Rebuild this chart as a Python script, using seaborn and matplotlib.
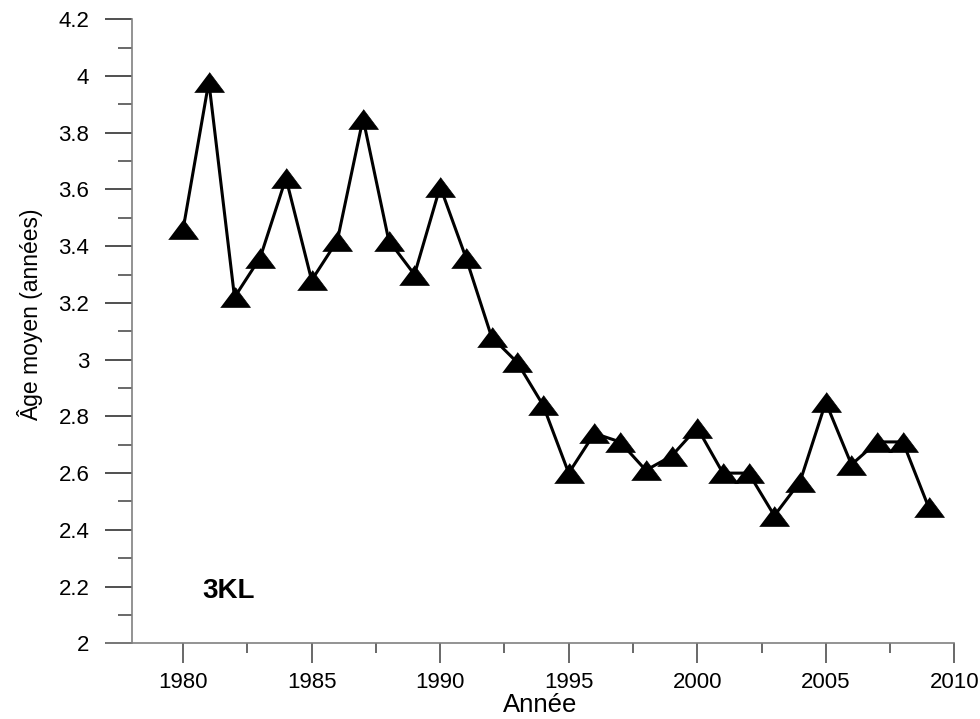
import matplotlib
matplotlib.use("Agg")
import matplotlib.pyplot as plt
import seaborn as sns
import pandas as pd
from matplotlib.ticker import MultipleLocator, FixedLocator

# Data
years = list(range(1980, 2010))
ages = [3.46, 3.98, 3.22, 3.36, 3.64, 3.28, 3.42, 3.85, 3.42, 3.30,
        3.61, 3.36, 3.08, 2.99, 2.84, 2.60, 2.74, 2.71, 2.61, 2.66,
        2.76, 2.60, 2.60, 2.45, 2.57, 2.85, 2.63, 2.71, 2.71, 2.48]
x_ticks = [1980, 1985, 1990, 1995, 2000, 2005, 2010]
x_minor = [1982.5, 1987.5, 1992.5, 1997.5, 2002.5, 2007.5]
y_ticks = [2, 2.2, 2.4, 2.6, 2.8, 3, 3.2, 3.4, 3.6, 3.8, 4, 4.2]
y_tick_labels = ["2", "2.2", "2.4", "2.6", "2.8", "3", "3.2", "3.4", "3.6", "3.8", "4", "4.2"]

df = pd.DataFrame({"Année": years, "Age": ages})

sns.set_style("white")
plt.rcParams["font.family"] = ["Liberation Sans", "DejaVu Sans"]
plt.rcParams["text.color"] = "black"

fig = plt.figure(figsize=(9.8, 7.19), dpi=100)
ax = fig.add_axes([106 / 980, 1 - 643.3 / 719, (954.3 - 106) / 980, (643.3 - 19.3) / 719])

# wide, flat triangle like the original
tri = [(-1.5, -1), (1.5, -1), (0, 1)]
sns.lineplot(data=df, x="Année", y="Age", ax=ax, color="black", linewidth=2.2,
             marker=tri, markersize=21.5, markeredgewidth=0.5,
             markeredgecolor="black", markerfacecolor="black")

ax.set_xlim(1977, 2010)
ax.set_ylim(2, 4.2)

for side in ["top", "right"]:
    ax.spines[side].set_visible(False)
ax.spines["left"].set_position(("data", 1978))
for side in ["left", "bottom"]:
    ax.spines[side].set_color("#808080")
    ax.spines[side].set_linewidth(1.2)

ax.set_xticks(x_ticks)
ax.set_xticklabels([str(t) for t in x_ticks])
ax.xaxis.set_minor_locator(FixedLocator(x_minor))
ax.set_yticks(y_ticks)
ax.set_yticklabels(y_tick_labels)
ax.yaxis.set_minor_locator(MultipleLocator(0.1))

ax.tick_params(axis="x", which="major", direction="out", length=14.5, width=1.1,
               color="#404040", labelsize=16, pad=6, labelcolor="black")
ax.tick_params(axis="x", which="minor", direction="out", length=7.5, width=1.1,
               color="#404040")
ax.tick_params(axis="y", which="major", direction="out", length=19.5, width=1.1,
               color="#202020", labelsize=16, pad=11, labelcolor="black")
ax.tick_params(axis="y", which="minor", direction="out", length=10, width=1.1,
               color="#404040")
ax.tick_params(left=True, bottom=True, which="both")

ax.set_xlabel("")
ax.set_ylabel("")
fig.text(540 / 980, 1 - 712 / 719, "Année", fontsize=18.5, ha="center", va="baseline",
         color="black")
fig.text(30 / 980, 1 - 315 / 719, "Âge moyen (années)", fontsize=16.5, rotation=90,
         ha="center", va="center", color="black")

ax.text(1980.73, 2.185, "3KL", fontsize=20, fontweight="bold", ha="left", va="center",
        color="black")

fig.savefig("out.png", dpi=100)
